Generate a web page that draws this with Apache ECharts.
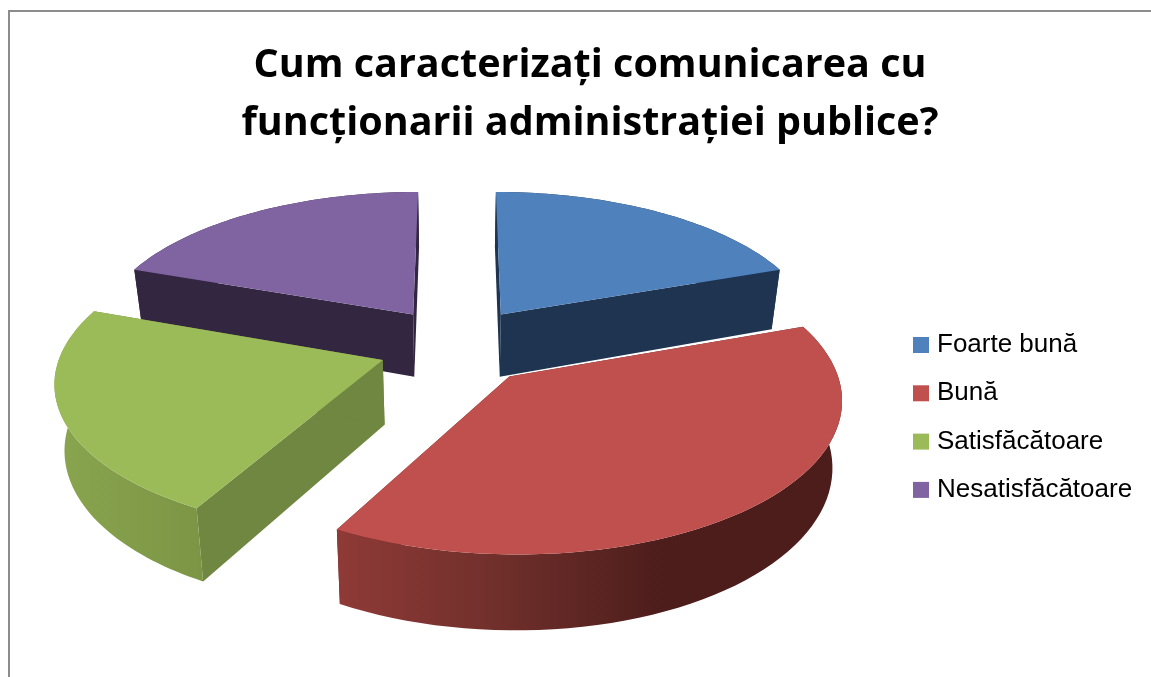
<!DOCTYPE html>
<html><head><meta charset="utf-8">
<style>html,body{margin:0;padding:0;background:#fff}#c{width:1151px;height:677px}</style>
<script src="https://cdn.jsdelivr.net/npm/echarts@6/dist/echarts.min.js"></script>
</head><body><div id="c"></div>
<script>
const titleLines = ['Cum caracterizați comunicarea cu', 'funcționarii administrației publice?'];
const categories = ['Foarte bună', 'Bună', 'Satisfăcătoare', 'Nesatisfăcătoare'];
const values = [19.5, 38.5, 22.5, 19.5];
const topColors = ['#4F81BD', '#C0504D', '#9BBB59', '#8064A2'];
const faceColors = ['#1F3450', '#5a2220', '#6F8740', '#332640'];
const wallStops = [
  [[0, '#1F3450'], [1, '#1F3450']],
  [[0, '#8F3A37'], [0.3, '#72302c'], [0.65, '#4c1d1b'], [1, '#4c1d1b']],
  [[0, '#8AA54F'], [1, '#7B9545']],
  [[0, '#332640'], [1, '#332640']]
];
const drawOrder = [2, 4, 3, 1];

// 3D pie projection (ground plane with perspective, unit radius)
const view = { cx: 457, cy: 345.8, a: 320, b: 146, k: 0.13, ex: 0.245, ey: 0.27, depth: 64, shrink: 0.975 };
const total = values.reduce((s, v) => s + v, 0);
function project(X, Y, low) {
  const s = 1 / (1 - view.k * Y);
  const x = view.cx + view.a * X * s * (low ? view.shrink : 1);
  const y = view.cy + view.b * Y * s + (low ? view.depth * s : 0);
  return [x, y];
}
function renderSlice(index) {
  const before = values.slice(0, index).reduce((s, v) => s + v, 0);
  const t0 = before / total * 2 * Math.PI, t1 = (before + values[index]) / total * 2 * Math.PI;
  const mid = (t0 + t1) / 2;
  const ox = Math.sin(mid) * view.ex, oy = -Math.cos(mid) * view.ey;
  const arcT = [], steps = 60;
  for (let i = 0; i <= steps; i++) {
    const t = t0 + (t1 - t0) * i / steps;
    arcT.push([ox + Math.sin(t), oy - Math.cos(t)]);
  }
  const topArc = arcT.map(p => project(p[0], p[1], false));
  const lowArc = arcT.map(p => project(p[0], p[1], true));
  const apexT = project(ox, oy, false), apexL = project(ox, oy, true);
  const face = (pts, fill) => ({ type: 'polygon', shape: { points: pts }, style: { fill: fill } });
  const wallFill = new echarts.graphic.LinearGradient(0, 0, 1, 0,
    wallStops[index].map(s => ({ offset: s[0], color: s[1] })));
  return {
    type: 'group',
    children: [
      face([apexT, topArc[0], lowArc[0], apexL], faceColors[index]),
      face([apexT, topArc[steps], lowArc[steps], apexL], faceColors[index]),
      face(topArc.concat(lowArc.slice().reverse()), wallFill),
      face([apexT].concat(topArc), topColors[index])
    ]
  };
}
const chart = echarts.init(document.getElementById('c'), null, { renderer: 'canvas' });
chart.setOption({
  backgroundColor: '#fff',
  animation: false,
  title: {
    text: titleLines.join('\n'), left: 585, top: 32, textAlign: 'center',
    textStyle: { fontFamily: '"Open Sans"', fontWeight: 'bold', fontSize: 39.5, lineHeight: 58, color: '#000' }
  },
  legend: {
    data: categories, orient: 'vertical', left: 908, top: 327, icon: 'rect',
    itemWidth: 16, itemHeight: 16, itemGap: 22.3, selectedMode: false,
    textStyle: { fontFamily: '"Liberation Sans"', fontSize: 26, color: '#000', padding: [0, 0, 0, 3] }
  },
  graphic: [{
    type: 'rect', silent: true, z: -1,
    shape: { x: 9, y: 11, width: 1400, height: 1000 },
    style: { fill: 'none', stroke: '#8c8c8c', lineWidth: 2 }
  }],
  series: categories.map((name, i) => ({
    type: 'custom', name: name, coordinateSystem: 'none', z: drawOrder[i],
    itemStyle: { color: topColors[i] }, silent: true,
    data: [values[i]],
    renderItem: () => renderSlice(i)
  }))
});
</script></body></html>
